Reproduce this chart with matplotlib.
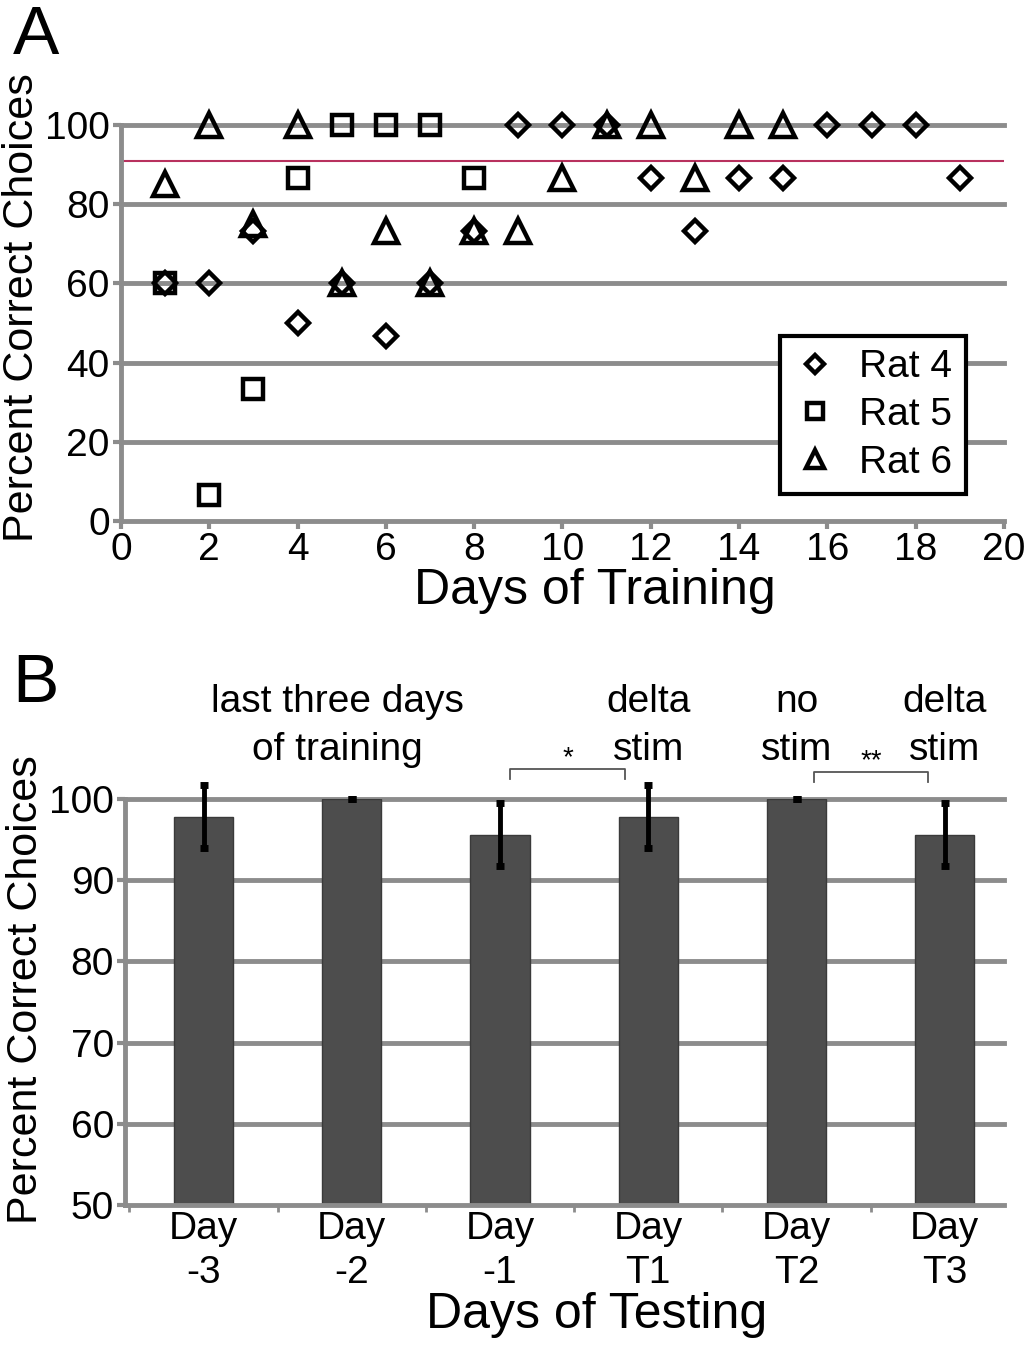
import matplotlib
matplotlib.use("Agg")
import matplotlib.pyplot as plt
import numpy as np

plt.rcParams['font.family'] = ['Liberation Sans', 'DejaVu Sans']

# panel A: training days
days = np.arange(1, 20)
rat4 = [60, 60, 73.3, 50, 60, 46.7, 60, 73.3, 100, 100, 100, 86.7, 73.3, 86.7, 86.7, 100, 100, 100, 86.7]
rat5_days = np.arange(1, 9)
rat5 = [60, 6.7, 33.3, 86.7, 100, 100, 100, 86.7]
rat6_days = np.arange(1, 16)
rat6 = [85, 100, 75, 100, 60, 73.3, 60, 73.3, 73.3, 86.7, 100, 100, 86.7, 100, 100]
criterion = 91

# panel B: testing days
test_labels = ['Day\n-3', 'Day\n-2', 'Day\n-1', 'Day\nT1', 'Day\nT2', 'Day\nT3']
test_means = [97.8, 100, 95.6, 97.8, 100, 95.6]
test_err = [3.9, 0, 3.9, 3.9, 0, 3.9]

grid_col = '#8c8c8c'
fig = plt.figure(figsize=(10.33, 13.45), dpi=100)

# ---- A ----
ax = fig.add_axes([0.117, 0.6126, 0.855, 0.2944])
for y in [20, 40, 60, 80, 100]:
    ax.axhline(y, color=grid_col, lw=3.5, zorder=0, clip_on=False)
ax.axhline(criterion, color='#b8315e', lw=1.5, zorder=1)
mk = dict(linestyle='none', mfc='none', mec='black', mew=3.2, clip_on=False, zorder=3)
ax.plot(rat5_days, rat5, marker='s', ms=15, label='Rat 5', **mk)
ax.plot(rat6_days, rat6, marker='^', ms=17, label='Rat 6', **mk)
ax.plot(days, rat4, marker='D', ms=11, label='Rat 4', **mk)
ax.set_xlim(0, 20)
ax.set_ylim(0, 100)
ax.set_xticks(range(0, 21, 2))
ax.set_yticks(range(0, 101, 20))
for s in ['top', 'right']:
    ax.spines[s].set_visible(False)
for s in ['left', 'bottom']:
    ax.spines[s].set_color(grid_col)
    ax.spines[s].set_linewidth(3.5)
ax.tick_params(colors=grid_col, width=3, length=6, labelcolor='black', labelsize=28, pad=2)
ax.set_xlabel('Days of Training', fontsize=36, labelpad=0, x=0.537)
ax.set_ylabel('Percent Correct Choices', fontsize=31, labelpad=2, y=0.54)
h, l = ax.get_legend_handles_labels()
order = [2, 0, 1]
leg = ax.legend([h[i] for i in order], [l[i] for i in order], loc='lower right',
                bbox_to_anchor=(0.957, 0.068), borderaxespad=0, fontsize=28, frameon=True,
                fancybox=False, edgecolor='black', handletextpad=0.6, borderpad=0.35,
                labelspacing=0.3, handlelength=1.1, markerscale=0.8)
leg.get_frame().set_linewidth(3)
leg.get_frame().set_alpha(1)
fig.text(0.012, 1 - 4 / 1345, 'A', fontsize=50, va='top')

# ---- B ----
bx = fig.add_axes([0.121, 0.104, 0.851, 0.302])
x = np.arange(len(test_labels))
for y in [60, 70, 80, 90, 100]:
    bx.axhline(y, color=grid_col, lw=3.5, zorder=0, clip_on=False)
bx.bar(x, test_means, width=0.4, color='#4d4d4d', edgecolor='#3a3a3a', zorder=2)
bx.errorbar(x, test_means, yerr=test_err, fmt='none', ecolor='black', elinewidth=3.5,
            capsize=3, capthick=5, zorder=3, clip_on=False)
bx.set_xlim(-0.53, 5.4)
bx.set_ylim(50, 100)
bx.set_yticks(range(50, 101, 10))
bx.set_xticks(x)
bx.set_xticklabels(test_labels, linespacing=1.3)
bx.set_xticks(np.arange(-0.5, 5.5, 1), minor=True)
for s in ['top', 'right']:
    bx.spines[s].set_visible(False)
for s in ['left', 'bottom']:
    bx.spines[s].set_color(grid_col)
    bx.spines[s].set_linewidth(3.5)
bx.tick_params(axis='y', colors=grid_col, width=3, length=6, labelcolor='black', labelsize=28, pad=2)
bx.tick_params(axis='x', which='major', length=0, labelsize=28, pad=4)
bx.tick_params(axis='x', which='minor', colors=grid_col, width=2, length=5)
bx.set_xlabel('Days of Testing', fontsize=36, labelpad=1, x=0.537)
bx.set_ylabel('Percent Correct Choices', fontsize=31, labelpad=2, y=0.53)

tk = dict(fontsize=28, ha='center', va='center', linespacing=1.45)
bx.text(0.9, 109, 'last three days\nof training', **tk)
bx.text(3, 109, 'delta\nstim', **tk)
bx.text(4, 109, 'no\nstim', **tk)
bx.text(5, 109, 'delta\nstim', **tk)

def bracket(x0, x1, y, label):
    bx.plot([x0, x0, x1, x1], [y - 1.2, y, y, y - 1.2], color='#555555', lw=1.3, clip_on=False)
    bx.text((x0 + x1) / 2, y - 0.3, label, fontsize=20, ha='center', va='bottom')

bracket(2.07, 2.84, 103.7, '*')
bracket(4.12, 4.89, 103.3, '**')
fig.text(0.012, 1 - 652 / 1345, 'B', fontsize=50, va='top')

fig.savefig('out.png', dpi=100)
